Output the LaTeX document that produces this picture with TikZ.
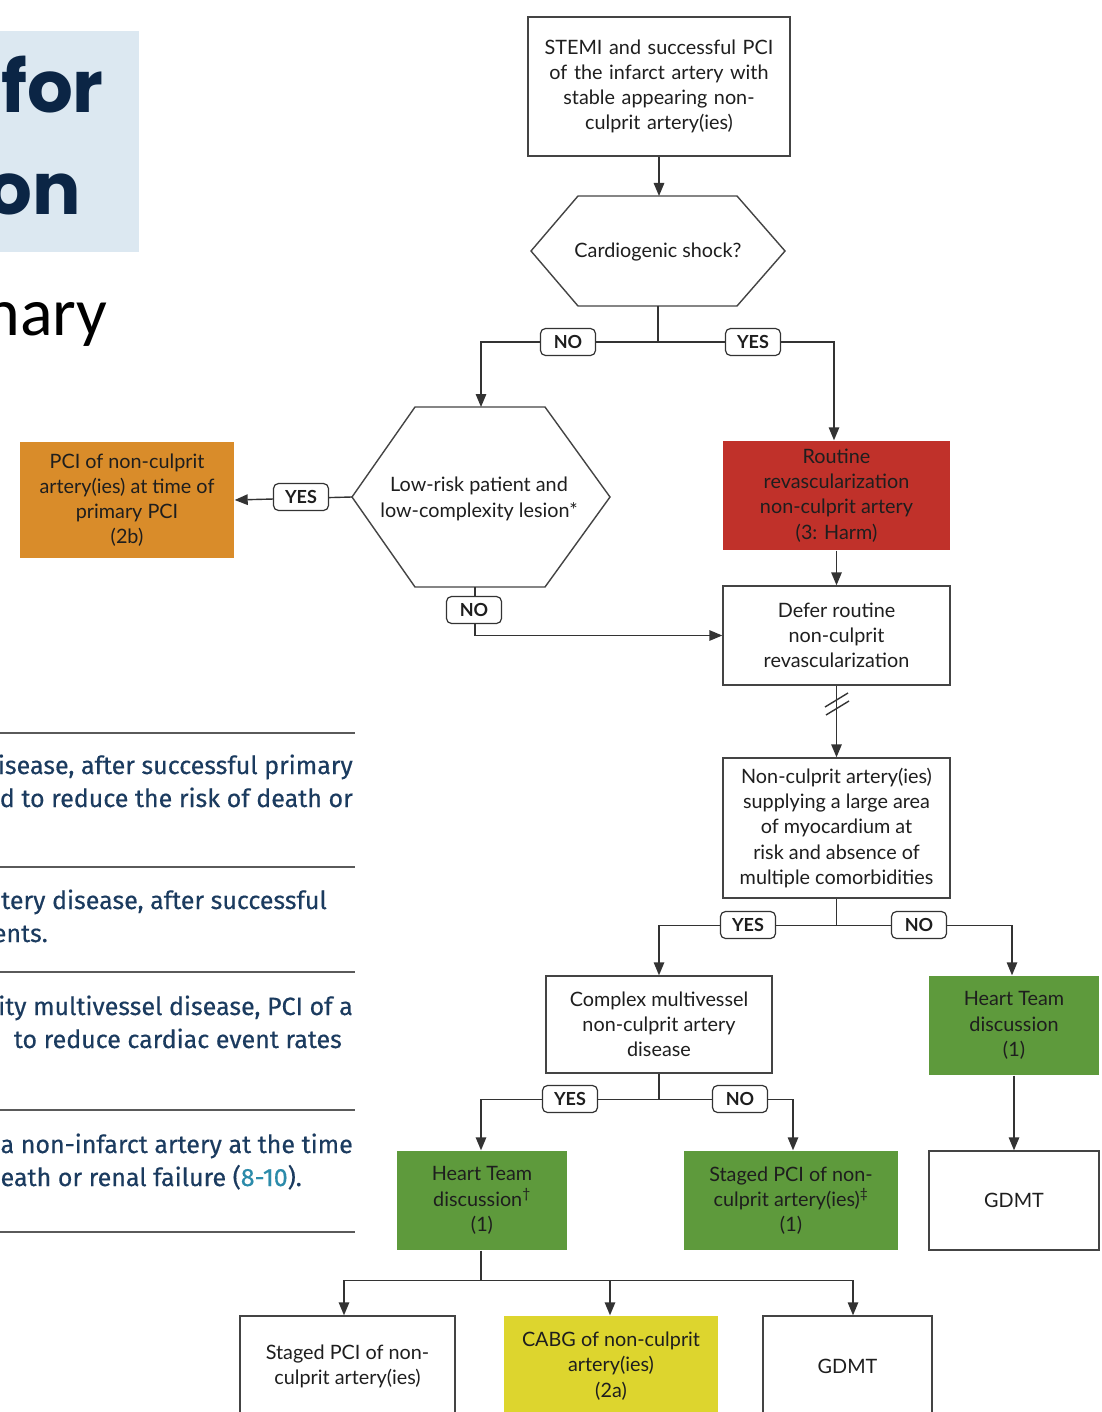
\documentclass[tikz,border=0pt]{standalone}
\usepackage{fontspec}
\setmainfont{Lato}
\newfontfamily\parafont{Fira Sans}[FakeBold=0.4]
\newfontfamily\titlefont{Poppins}
\newfontfamily\calfont{Carlito}
\usetikzlibrary{arrows.meta}
\definecolor{titlebg}{HTML}{DCE8F1}
\definecolor{titletxt}{HTML}{0B2545}
\definecolor{paratxt}{HTML}{1B3B5F}
\definecolor{teal}{HTML}{2B8BAA}
\definecolor{rulecol}{HTML}{5A5A5A}
\definecolor{boxline}{HTML}{444444}
\definecolor{lncol}{HTML}{333333}
\definecolor{txt}{HTML}{1E1E1E}
\definecolor{orangebox}{HTML}{D98C2A}
\definecolor{redbox}{HTML}{C0312A}
\definecolor{greenbox}{HTML}{5E9A3C}
\definecolor{yellowbox}{HTML}{DDD52E}
\begin{document}
\begin{tikzpicture}[x=1pt,y=-1pt,
  box/.style={draw=boxline, line width=1.4pt, inner sep=0pt, align=center, text=txt,
    font=\fontsize{19.8}{25.2}\selectfont},
  cbox/.style={box, draw=none},
  conn/.style={draw=lncol, line width=1.4pt},
  arr/.style={conn, -{Triangle[length=13pt,width=10.5pt]}},
  lbl/.style={draw=lncol, line width=1.2pt, fill=white, rounded corners=5pt,
    minimum width=55pt, minimum height=27pt, inner sep=0pt, text=txt,
    font=\bfseries\fontsize{18}{18}\selectfont},
  hexline/.style={draw=boxline, line width=1.4pt},
  para/.style={anchor=base east, inner sep=0pt, text=paratxt,
    font=\parafont\fontsize{25}{25}\selectfont},
  hrule/.style={draw=rulecol, line width=2pt}
]
\clip (0,0) rectangle (1101,1412);
\fill[white] (0,0) rectangle (1101,1412);

% ---- left page fragments ----
\fill[titlebg] (0,31) rectangle (139,252);
\node[anchor=base east, inner sep=0pt, text=titletxt, font=\titlefont\bfseries\fontsize{72}{72}\selectfont] (tfor) at (104,113) {for};
\node[anchor=base east, inner sep=0pt, text=titletxt, font=\titlefont\bfseries\fontsize{72}{72}\selectfont] (ton) at (81,215) {on};
\node[anchor=base east, inner sep=0pt, text=black, font=\calfont\fontsize{68}{68}\selectfont] (tnary) at (108,335) {nary};

\foreach \yy in {733,867,972,1110,1232} \draw[hrule] (0,\yy) -- (355,\yy);
\node[para] (p1) at (353,774) {disease, after successful primary};
\node[para] (p2) at (353,807) {ed to reduce the risk of death or};
\node[para] (p3) at (327,909) {tery disease, after successful};
\node[para] (p4) at (48,942) {ents.};
\node[para] (p5) at (353,1015) {ity multivessel disease, PCI of a};
\node[para] (p6) at (342,1048) {to reduce cardiac event rates};
\node[para] (p7) at (353,1153) {a non-infarct artery at the time};
\node[para] (p8) at (302,1186) {eath or renal failure ({\color{teal}8-10}).};

% ---- flowchart boxes ----
\node[box, minimum width=262pt, minimum height=139pt, text width=255pt] (stemi) at (659,86.5)
  {STEMI and successful PCI\\of the infarct artery with\\stable appearing non-\\culprit artery(ies)};

\draw[hexline] (531,251) -- (578,196) -- (737,196) -- (785,251) -- (737,306) -- (578,306) -- cycle;
\node[cbox] (shock) at (658,252) {Cardiogenic shock?};
\coordinate (shockN) at (659,196);
\coordinate (shockS) at (658,306);

\draw[hexline] (352,497) -- (415,407) -- (545,407) -- (610,497) -- (545,587) -- (415,587) -- cycle;
\node[cbox] (lowrisk) at (479,499) {Low-risk patient and\\low-complexity lesion*};
\coordinate (lowN) at (481,407);
\coordinate (lowW) at (352,497);
\coordinate (lowS) at (475,587);

\node[box, draw=none, fill=orangebox, minimum width=214pt, minimum height=116pt] (pcinow) at (127,500)
  {PCI of non-culprit\\artery(ies) at time of\\primary PCI\\(2b)};
\node[box, draw=none, fill=redbox, minimum width=227pt, minimum height=109pt] (routine) at (836.5,495.5)
  {Routine\\revascularization\\non-culprit artery\\(3: Harm)};
\node[box, minimum width=227pt, minimum height=99pt] (defer) at (836.5,635.5)
  {Defer routine\\non-culprit\\revascularization};
\node[box, minimum width=227pt, minimum height=140pt] (noncul) at (836.5,828)
  {Non-culprit artery(ies)\\supplying a large area\\of myocardium at\\risk and absence of\\multiple comorbidities};
\node[box, minimum width=226pt, minimum height=97pt] (complex) at (659,1024.5)
  {Complex multivessel\\non-culprit artery\\disease};
\node[box, draw=none, fill=greenbox, minimum width=170pt, minimum height=99pt] (htA) at (1014,1025.5)
  {Heart Team\\discussion\\(1)};
\node[box, minimum width=170pt, minimum height=99pt] (gdmtA) at (1014,1200.5) {GDMT};
\node[box, draw=none, fill=greenbox, minimum width=170pt, minimum height=99pt] (htB) at (482,1200.5)
  {Heart Team\\discussion\textsuperscript{†}\\(1)};
\node[box, draw=none, fill=greenbox, minimum width=214pt, minimum height=99pt] (stagedA) at (791,1200.5)
  {Staged PCI of non-\\culprit artery(ies)\textsuperscript{‡}\\(1)};
\node[box, minimum width=215pt, minimum height=100pt] (stagedB) at (347.5,1366)
  {Staged PCI of non-\\culprit artery(ies)};
\node[box, draw=none, fill=yellowbox, minimum width=214pt, minimum height=100pt] (cabg) at (611,1366)
  {CABG of non-culprit\\artery(ies)\\(2a)};
\node[box, minimum width=169pt, minimum height=100pt] (gdmtB) at (847.5,1366) {GDMT};

% ---- connectors ----
\draw[arr] (stemi.south) -- (shockN);
\draw[conn] (shockS) -- (658,342) coordinate (j1);
\draw[arr] (j1) -| (lowN);
\draw[arr] (j1) -| ([xshift=-2.5pt]routine.north);
\node[lbl] (no1) at (568,342) {NO};
\node[lbl] (yes1) at (753,342) {YES};

\draw[arr] (lowW) -- (pcinow.east);
\node[lbl] (yes2) at (301,497) {YES};
\draw[arr] (lowS) |- (defer.west);
\node[lbl] (no2) at (474,610) {NO};

\draw[arr] (routine.south) -- (defer.north);
\draw[arr] (defer.south) -- (noncul.north);
\draw[conn] (825,707) -- (848,693);
\draw[conn] (826,715) -- (849,701);

\draw[conn] (noncul.south) -- ++(0,27) coordinate (j2);
\draw[arr] (j2) -| (complex.north);
\draw[arr] (j2) -| ([xshift=-2pt]htA.north);
\node[lbl] (yes3) at (748,925) {YES};
\node[lbl] (no3) at (919,925) {NO};

\draw[arr] (htA.south) -- (gdmtA.north);

\draw[conn] (complex.south) -- ++(0,26) coordinate (j3);
\draw[arr] (j3) -| ([xshift=-1pt]htB.north);
\draw[arr] (j3) -| ([xshift=2pt]stagedA.north);
\node[lbl] (yes4) at (570,1099) {YES};
\node[lbl] (no4) at (740,1099) {NO};

\draw[conn] ([xshift=-1pt]htB.south) -- ++(0,30) coordinate (j4);
\draw[arr] (j4) -| ([xshift=-3.5pt]stagedB.north);
\draw[arr] (j4) -| ([xshift=-1pt]cabg.north);
\draw[arr] (j4) -| ([xshift=5.5pt]gdmtB.north);
\end{tikzpicture}
\end{document}
